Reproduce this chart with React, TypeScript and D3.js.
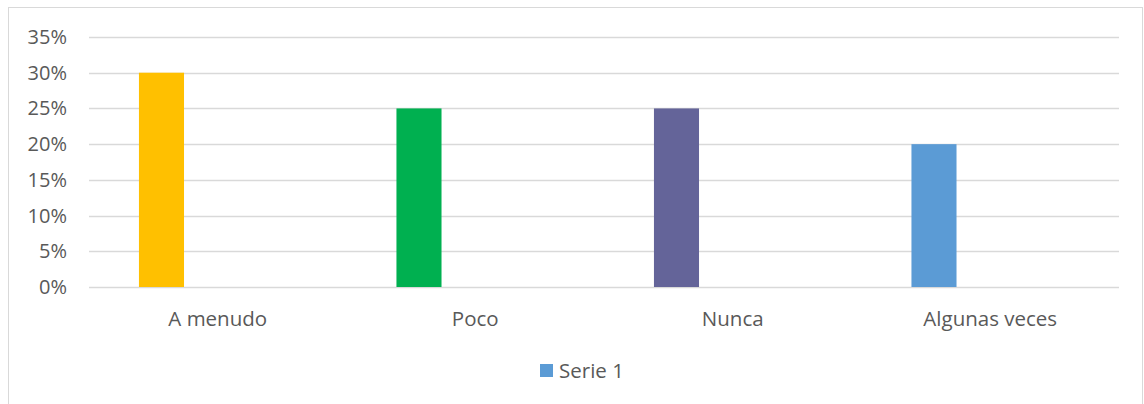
import React from "react";
import * as d3 from "d3";

const categories = ["A menudo", "Poco", "Nunca", "Algunas veces"];
const values = [0.3, 0.25, 0.25, 0.2];
const barColors = ["#FFC000", "#00B050", "#646499", "#5B9BD5"];
const yTicks = [0, 0.05, 0.1, 0.15, 0.2, 0.25, 0.3, 0.35];
const seriesName = "Serie 1";

export default function App() {
  const W = 1144, H = 404;
  const left = 89, right = 1119, top = 37, bottom = 287;
  const x = d3.scaleBand<string>().domain(categories).range([left, right]).padding(0);
  const y = d3.scaleLinear().domain([0, 0.35]).range([bottom, top]);
  const bw = x.bandwidth();
  const barOff = bw * 0.194;
  const barW = bw * 0.175;
  const fmt = d3.format(".0%");
  const font = "'Open Sans', sans-serif";
  return (
    <svg width={W} height={H} style={{ position: "absolute", left: 0, top: 0 }} fontFamily={font}>
      <rect x={8.5} y={7.5} width={1134} height={400} fill="#fff" stroke="#d9d9d9" strokeWidth={1} />
      {yTicks.map((t) => (
        <g key={t}>
          <line x1={left} x2={right} y1={Math.round(y(t)) + 0.5} y2={Math.round(y(t)) + 0.5} stroke="#d9d9d9" strokeWidth={1.5} />
          <text x={67} y={y(t)} dy="0.35em" textAnchor="end" fontSize={20} fill="#595959">{fmt(t)}</text>
        </g>
      ))}
      {categories.map((c, i) => (
        <rect key={c} x={(x(c) as number) + barOff} y={y(values[i])} width={barW} height={y(0) - y(values[i])} fill={barColors[i]} />
      ))}
      {categories.map((c) => (
        <text key={c} x={(x(c) as number) + bw / 2} y={326} textAnchor="middle" fontSize={20.5} fill="#595959">{c}</text>
      ))}
      <rect x={540} y={364} width={13} height={13} fill="#5B9BD5" />
      <text x={559} y={370.5} dy="0.35em" fontSize={20.5} fill="#595959">{seriesName}</text>
    </svg>
  );
}
